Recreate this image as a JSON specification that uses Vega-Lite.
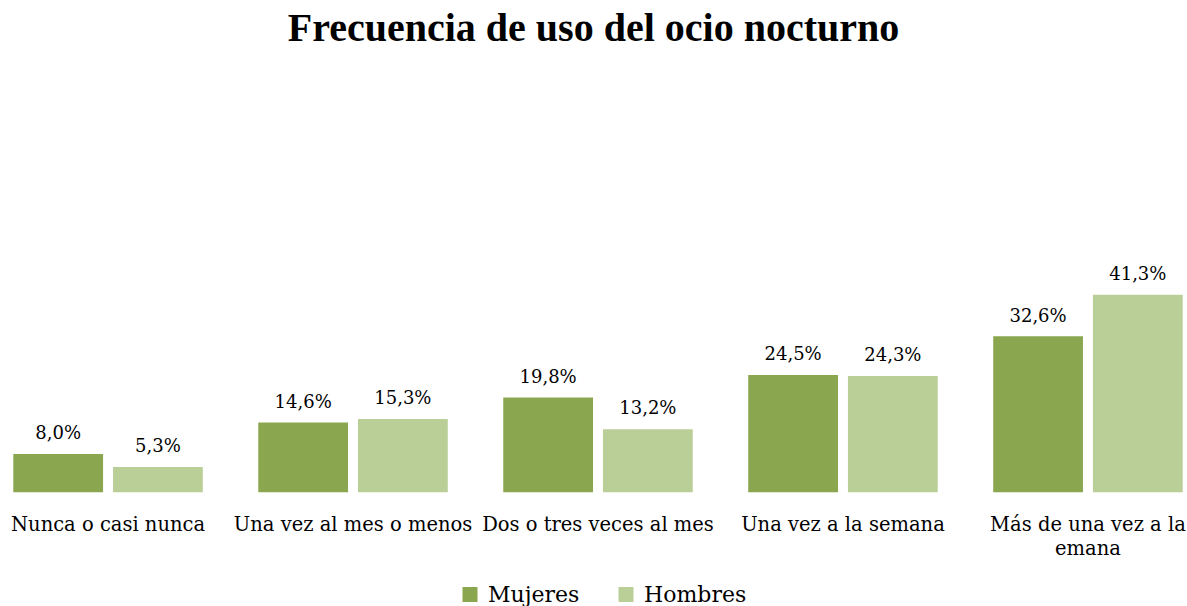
{
  "$schema": "https://vega.github.io/schema/vega-lite/v6.json",
  "width": 1187,
  "height": 382.8,
  "autosize": {"type": "none"},
  "padding": {"left": 0, "top": 109.5, "right": 0, "bottom": 113.7},
  "background": "white",
  "config": {"view": {"stroke": null}, "font": "DejaVu Serif"},
  "title": {
    "text": "Frecuencia de uso del ocio nocturno",
    "font": "Liberation Serif",
    "fontSize": 40,
    "fontWeight": "bold",
    "color": "#000000",
    "anchor": "middle",
    "baseline": "alphabetic",
    "offset": 28.5
  },
  "data": {
    "values": [
      {"categoria": "Nunca o casi nunca", "sexo": "Mujeres", "valor": 8.0, "etiqueta": "8,0%"},
      {"categoria": "Nunca o casi nunca", "sexo": "Hombres", "valor": 5.3, "etiqueta": "5,3%"},
      {"categoria": "Una vez al mes o menos", "sexo": "Mujeres", "valor": 14.6, "etiqueta": "14,6%"},
      {"categoria": "Una vez al mes o menos", "sexo": "Hombres", "valor": 15.3, "etiqueta": "15,3%"},
      {"categoria": "Dos o tres veces al mes", "sexo": "Mujeres", "valor": 19.8, "etiqueta": "19,8%"},
      {"categoria": "Dos o tres veces al mes", "sexo": "Hombres", "valor": 13.2, "etiqueta": "13,2%"},
      {"categoria": "Una vez a la semana", "sexo": "Mujeres", "valor": 24.5, "etiqueta": "24,5%"},
      {"categoria": "Una vez a la semana", "sexo": "Hombres", "valor": 24.3, "etiqueta": "24,3%"},
      {"categoria": "Más de una vez a la emana", "sexo": "Mujeres", "valor": 32.6, "etiqueta": "32,6%"},
      {"categoria": "Más de una vez a la emana", "sexo": "Hombres", "valor": 41.3, "etiqueta": "41,3%"}
    ]
  },
  "encoding": {
    "x": {
      "field": "categoria",
      "type": "nominal",
      "sort": ["Nunca o casi nunca", "Una vez al mes o menos", "Dos o tres veces al mes", "Una vez a la semana", "Más de una vez a la emana"],
      "scale": {"range": [13.3, 1182.7], "paddingInner": 0.2265, "paddingOuter": 0},
      "title": null,
      "axis": {
        "domain": false,
        "ticks": false,
        "grid": false,
        "labelAngle": 0,
        "labelFont": "DejaVu Serif",
        "labelFontSize": 19.5,
        "labelColor": "#000000",
        "labelBaseline": "alphabetic",
        "labelPadding": 38,
        "labelLimit": 0,
        "labelLineHeight": 24,
        "labelOverlap": false,
        "labelExpr": "datum.label == 'Más de una vez a la emana' ? ['Más de una vez a la', 'emana'] : datum.label"
      }
    },
    "xOffset": {
      "field": "sexo",
      "type": "nominal",
      "sort": ["Mujeres", "Hombres"],
      "scale": {"paddingInner": 0.1, "paddingOuter": 0}
    },
    "y": {
      "field": "valor",
      "type": "quantitative",
      "scale": {"domain": [0, 80]},
      "axis": null
    }
  },
  "layer": [
    {
      "mark": {"type": "bar"},
      "encoding": {
        "color": {
          "field": "sexo",
          "type": "nominal",
          "sort": ["Mujeres", "Hombres"],
          "scale": {"domain": ["Mujeres", "Hombres"], "range": ["#8AA64F", "#BACE97"]},
          "legend": {
            "title": null,
            "orient": "none",
            "direction": "horizontal",
            "legendX": 459,
            "legendY": 474,
            "symbolType": "square",
            "symbolSize": 225,
            "symbolStrokeWidth": 0,
            "symbolOpacity": 1,
            "labelFont": "DejaVu Serif",
            "labelFontSize": 22,
            "labelColor": "#000000",
            "labelOffset": 7,
            "columnPadding": 35
          }
        }
      }
    },
    {
      "mark": {"type": "text", "baseline": "alphabetic", "dy": -14.7, "fontSize": 18, "font": "DejaVu Serif", "color": "#000000"},
      "encoding": {"text": {"field": "etiqueta"}}
    }
  ]
}
